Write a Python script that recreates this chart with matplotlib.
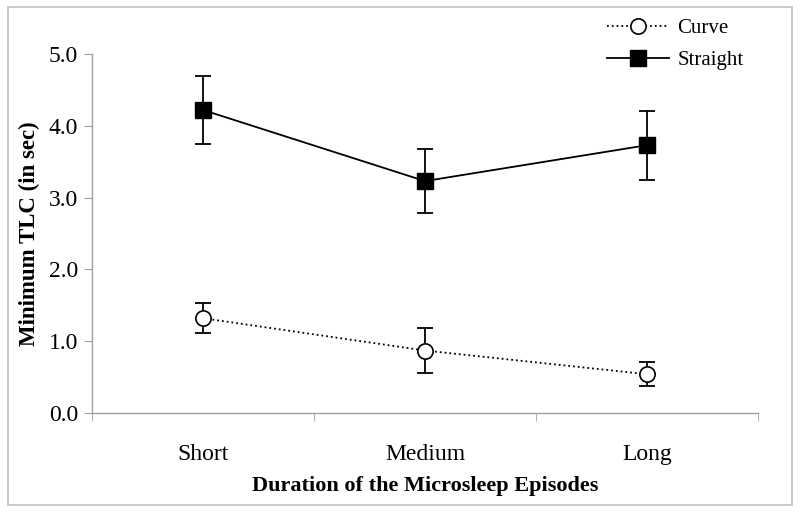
import matplotlib.pyplot as plt
import matplotlib.patches as patches

categories = ['Short', 'Medium', 'Long']
straight = [4.22, 3.23, 3.73]
straight_err = [0.47, 0.45, 0.48]
curve = [1.32, 0.87, 0.54]
curve_err = [0.21, 0.31, 0.17]

plt.rcParams['font.family'] = ['Liberation Serif', 'DejaVu Serif']

fig = plt.figure(figsize=(8, 5.14), dpi=100)
ax = fig.add_axes([92/800, 1 - 413/514, (758 - 92)/800, (413 - 54)/514])

x = [1, 2, 3]
# error bars first, then the lines with labels so the legend has no caps
ax.errorbar(x, curve, yerr=curve_err, color='black', ls='none',
            capsize=5.5, elinewidth=1.3, capthick=1.3)
ax.errorbar(x, straight, yerr=straight_err, color='black', ls='none',
            capsize=5.5, elinewidth=1.3, capthick=1.3)
ax.plot(x, curve, color='black', ls=':', lw=1.3,
        marker='o', ms=11, mfc='white', mec='black', mew=1.2, label='Curve')
ax.plot(x, straight, color='black', ls='-', lw=1.3,
        marker='s', ms=11, mfc='black', mec='black', label='Straight')

ax.set_xlim(0.5, 3.5)
ax.set_ylim(0, 5.0)
ax.set_yticks([0, 1, 2, 3, 4, 5])
ax.set_yticklabels(['%.1f' % v for v in [0, 1, 2, 3, 4, 5]], fontsize=17)
ax.set_xticks(x)
ax.set_xticklabels(categories, fontsize=17)
ax.tick_params(axis='x', which='major', length=0, pad=22)
ax.set_xticks([0.5, 1.5, 2.5, 3.5], minor=True)
ax.tick_params(axis='x', which='minor', length=6, color='#a0a0a0', direction='out')
ax.tick_params(axis='y', length=6, color='#a0a0a0', direction='out', pad=4)

for s in ['top', 'right']:
    ax.spines[s].set_visible(False)
for s in ['left', 'bottom']:
    ax.spines[s].set_color('#a0a0a0')
    ax.spines[s].set_linewidth(1.0)

ax.set_ylabel('Minimum TLC (in sec)', fontsize=16.5, fontweight='bold', labelpad=6)
ax.set_xlabel('Duration of the Microsleep Episodes', fontsize=16, fontweight='bold', labelpad=8)

ax.legend(loc='upper left', bbox_to_anchor=(588/800, 1 - 0/514), bbox_transform=fig.transFigure,
          frameon=False, fontsize=15, handlelength=3.0, handletextpad=0.4, labelspacing=0.6)

fig.patches.append(patches.Rectangle((8/800, 1 - 505/514), (792 - 8)/800, (505 - 7)/514,
                                     transform=fig.transFigure, fill=False,
                                     edgecolor='#c0c0c0', lw=1.2))

plt.savefig('out.png', dpi=100)
